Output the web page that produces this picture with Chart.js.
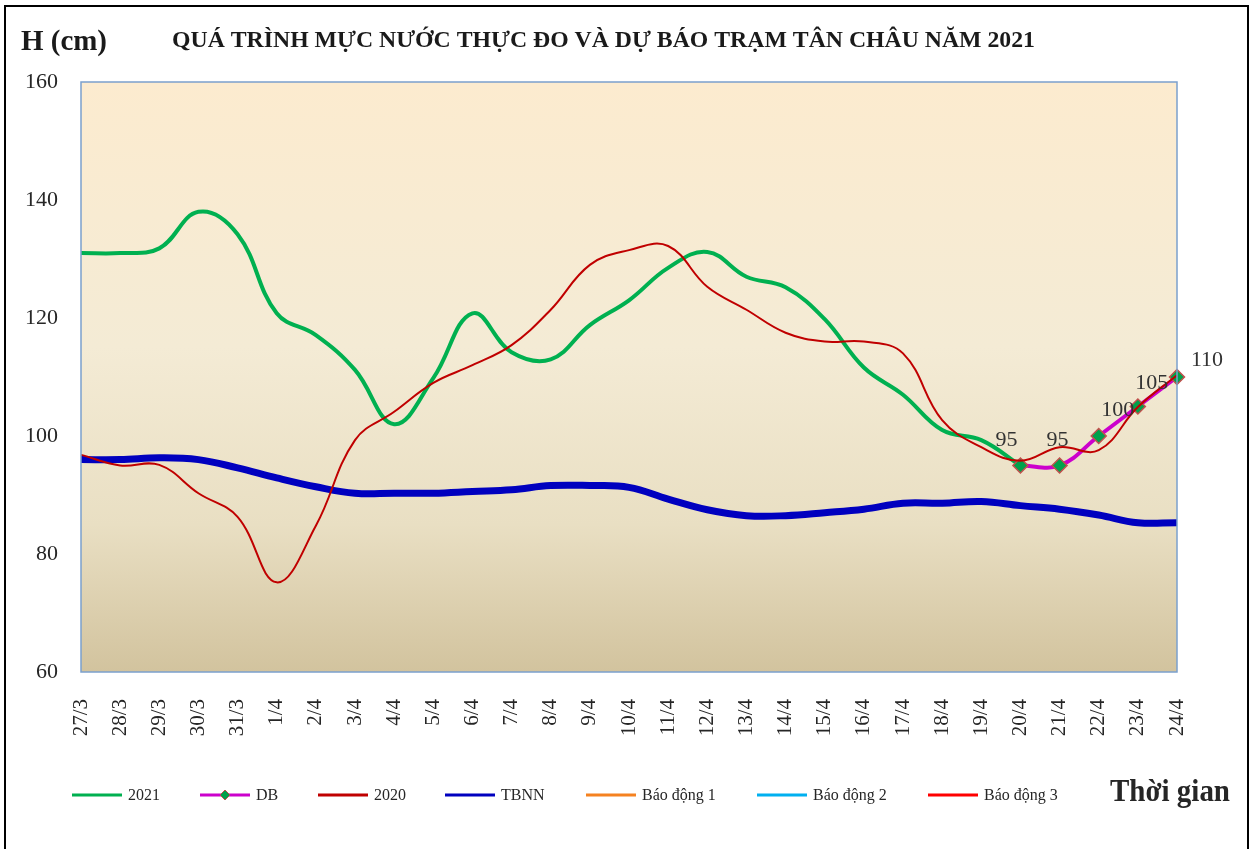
<!DOCTYPE html>
<html>
<head>
<meta charset="utf-8">
<script src="https://cdn.jsdelivr.net/npm/chart.js@4.4.1/dist/chart.umd.min.js"></script>
<style>
  html, body { margin: 0; padding: 0; background: #ffffff; }
  #wrap { width: 1253px; height: 849px; position: relative; }
</style>
</head>
<body>
<div id="wrap"><canvas id="c" width="1253" height="849"></canvas></div>
<script>
// ---------- DATA ----------
const categories = ['27/3','28/3','29/3','30/3','31/3','1/4','2/4','3/4','4/4','5/4','6/4','7/4','8/4','9/4','10/4','11/4','12/4','13/4','14/4','15/4','16/4','17/4','18/4','19/4','20/4','21/4','22/4','23/4','24/4'];
const yTicks = [60, 80, 100, 120, 140, 160];

const level2021 = [131.0, 131.0, 131.8, 138.0, 134.2, 120.8, 117.1, 111.2, 102.0, 109.8, 120.8, 114.2, 113.0, 118.8, 123.0, 128.5, 131.2, 127.0, 125.2, 119.8, 111.6, 107.0, 101.0, 99.3, 95.0];
const forecastDB = [null, null, null, null, null, null, null, null, null, null, null, null, null, null, null, null, null, null, null, null, null, null, null, null, 95, 95, 100, 105, 110];
const level2020 = [96.8, 95.0, 95.1, 90.3, 86.3, 75.2, 84.8, 99.3, 104.1, 109.0, 112.0, 115.4, 121.4, 129.0, 131.5, 132.2, 125.3, 121.4, 117.5, 116.0, 116.0, 114.0, 102.7, 98.1, 95.8, 98.1, 97.6, 104.9, 110.3];
const levelTBNN = [96.0, 96.0, 96.3, 96.0, 94.6, 92.9, 91.4, 90.3, 90.3, 90.3, 90.6, 90.9, 91.6, 91.6, 91.3, 89.3, 87.5, 86.5, 86.5, 87.0, 87.6, 88.6, 88.6, 88.9, 88.2, 87.6, 86.6, 85.3, 85.3];
const alarm1 = [];
const alarm2 = [];
const alarm3 = [];
const dbLabels = ['95', '95', '100', '105', '110'];

const titleText = 'QUÁ TRÌNH MỰC NƯỚC THỰC ĐO VÀ DỰ BÁO TRẠM TÂN CHÂU NĂM 2021';

// ---------- STYLE ----------
const SERIF = '"Liberation Serif", "Times New Roman", serif';
const COL = {
  g2021: '#00B050', db: '#CC00CC', dbPoint: '#00A14B', dbPointBorder: '#C0504D',
  r2020: '#C00000', tbnn: '#0000BF', a1: '#F58220', a2: '#00B0F0', a3: '#FF0000'
};

const datasets = [
  { label: '2020', data: level2020, borderColor: COL.r2020, borderWidth: 2, pointRadius: 0, tension: 0.4, order: 0 },
  { label: 'DB', data: forecastDB, borderColor: COL.db, borderWidth: 4, pointRadius: 7.5, pointStyle: 'rectRot',
    pointBackgroundColor: COL.dbPoint, pointBorderColor: COL.dbPointBorder, pointBorderWidth: 1.5, tension: 0.4, order: 1, spanGaps: false },
  { label: '2021', data: level2021, borderColor: COL.g2021, borderWidth: 4, pointRadius: 0, tension: 0.4, order: 2 },
  { label: 'TBNN', data: levelTBNN, borderColor: COL.tbnn, borderWidth: 7, pointRadius: 0, tension: 0.4, order: 3 },
  { label: 'Báo động 1', data: alarm1, borderColor: COL.a1, borderWidth: 3, pointRadius: 0, order: 4 },
  { label: 'Báo động 2', data: alarm2, borderColor: COL.a2, borderWidth: 3, pointRadius: 0, order: 5 },
  { label: 'Báo động 3', data: alarm3, borderColor: COL.a3, borderWidth: 3, pointRadius: 0, order: 6 }
];

const legendOrder = ['2021', 'DB', '2020', 'TBNN', 'Báo động 1', 'Báo động 2', 'Báo động 3'];
const legendX = [72, 200, 318, 445, 586, 757, 928];

const dbLabelOffsets = [[-14, -25], [-2, -25], [19, -26], [14, -23], [30, -17]];

function drawFitted(ctx, text, x, y, font, width) {
  ctx.font = font;
  const w = ctx.measureText(text).width;
  ctx.save();
  ctx.translate(x, y);
  ctx.scale(width / w, 1);
  ctx.fillText(text, 0, 0);
  ctx.restore();
}

const decorPlugin = {
  id: 'decor',
  beforeDraw(chart) {
    const { ctx, chartArea: a } = chart;
    ctx.save();
    ctx.fillStyle = '#ffffff';
    ctx.fillRect(0, 0, chart.width, chart.height);
    ctx.strokeStyle = '#000000';
    ctx.lineWidth = 2;
    ctx.beginPath();
    ctx.moveTo(5, 849); ctx.lineTo(5, 6); ctx.lineTo(1248, 6); ctx.lineTo(1248, 849);
    ctx.stroke();
    const g = ctx.createLinearGradient(0, a.top, 0, a.bottom);
    g.addColorStop(0, '#FCEBCF');
    g.addColorStop(0.45, '#F4EBD5');
    g.addColorStop(0.75, '#E9DFC3');
    g.addColorStop(1, '#D2C39E');
    ctx.fillStyle = g;
    ctx.fillRect(a.left, a.top, a.right - a.left, a.bottom - a.top);
    ctx.restore();
  },
  afterDatasetsDraw(chart) {
    const { ctx, chartArea: a } = chart;
    ctx.save();
    ctx.strokeStyle = '#7BA0CD';
    ctx.lineWidth = 1.5;
    ctx.strokeRect(a.left, a.top, a.right - a.left, a.bottom - a.top);
    const dbIndex = chart.data.datasets.findIndex(d => d.label === 'DB');
    const meta = chart.getDatasetMeta(dbIndex);
    ctx.font = '22px ' + SERIF;
    ctx.fillStyle = '#333333';
    ctx.textAlign = 'center';
    ctx.textBaseline = 'middle';
    let k = 0;
    meta.data.forEach((pt, i) => {
      if (forecastDB[i] === null) return;
      const off = dbLabelOffsets[k] || [0, -24];
      ctx.fillText(dbLabels[k], pt.x + off[0], pt.y + off[1]);
      k++;
    });
    ctx.restore();
  },
  afterDraw(chart) {
    const { ctx } = chart;
    ctx.save();
    ctx.fillStyle = '#1a1a1a';
    ctx.textBaseline = 'middle';
    ctx.textAlign = 'left';
    drawFitted(ctx, 'H (cm)', 21, 43, 'bold 29px ' + SERIF, 86);
    drawFitted(ctx, titleText, 172, 41, 'bold 23px ' + SERIF, 863);
    ctx.fillStyle = '#262626';
    drawFitted(ctx, 'Thời gian', 1110, 793, 'bold 31px ' + SERIF, 120);
    ctx.fillStyle = '#262626';
    legendOrder.forEach((name, j) => {
      const ds = chart.data.datasets.find(d => d.label === name);
      const x0 = legendX[j], y0 = 795;
      ctx.strokeStyle = ds.borderColor;
      ctx.lineWidth = 3;
      ctx.beginPath();
      ctx.moveTo(x0, y0); ctx.lineTo(x0 + 50, y0);
      ctx.stroke();
      if (name === 'DB') {
        ctx.fillStyle = COL.dbPoint;
        ctx.strokeStyle = COL.dbPointBorder;
        ctx.lineWidth = 1;
        ctx.beginPath();
        ctx.moveTo(x0 + 25, y0 - 5); ctx.lineTo(x0 + 30, y0); ctx.lineTo(x0 + 25, y0 + 5); ctx.lineTo(x0 + 20, y0);
        ctx.closePath(); ctx.fill(); ctx.stroke();
        ctx.fillStyle = '#262626';
      }
      ctx.font = '16px ' + SERIF;
      ctx.fillText(name, x0 + 56, y0 + 1);
    });
    ctx.restore();
  }
};

new Chart(document.getElementById('c'), {
  type: 'line',
  data: { labels: categories, datasets },
  options: {
    responsive: false,
    animation: false,
    devicePixelRatio: 1,
    layout: { padding: { left: 0, top: 82, right: 76, bottom: 0 } },
    plugins: { legend: { display: false }, tooltip: { enabled: false }, title: { display: false } },
    scales: {
      x: {
        offset: false,
        grid: { display: false, drawTicks: false },
        border: { display: false },
        ticks: {
          autoSkip: false, maxRotation: 90, minRotation: 90, padding: 27,
          color: '#262626', font: { family: SERIF, size: 21 }
        },
        afterFit(scale) { scale.height = 849 - 82 - 590; }
      },
      y: {
        min: 60, max: 160,
        grid: { display: false, drawTicks: false },
        border: { display: false },
        afterBuildTicks(scale) { scale.ticks = yTicks.map(v => ({ value: v })); },
        ticks: { padding: 23, color: '#262626', font: { family: SERIF, size: 22 } },
        afterFit(scale) { scale.width = 81; }
      }
    }
  },
  plugins: [decorPlugin]
});
</script>
</body>
</html>
